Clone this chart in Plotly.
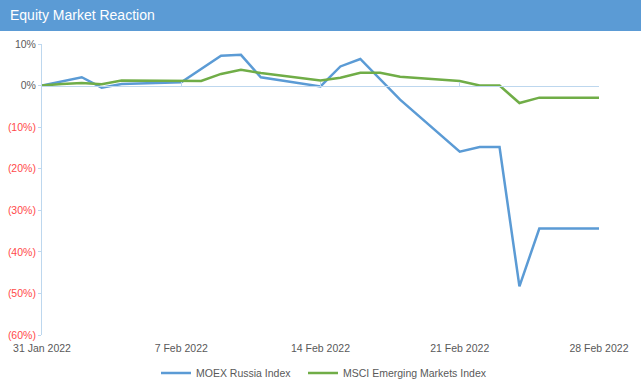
import plotly.graph_objects as go

dates = ["2022-01-31", "2022-02-01", "2022-02-02", "2022-02-03", "2022-02-04",
         "2022-02-07", "2022-02-08", "2022-02-09", "2022-02-10", "2022-02-11",
         "2022-02-14", "2022-02-15", "2022-02-16", "2022-02-17", "2022-02-18",
         "2022-02-21", "2022-02-22", "2022-02-23", "2022-02-24", "2022-02-25",
         "2022-02-28"]
moex = [0.0, 1.0, 2.0, -0.5, 0.4,
        0.8, 4.0, 7.2, 7.4, 2.0,
        -0.2, 4.6, 6.4, 1.5, -3.4,
        -15.9, -14.8, -14.8, -48.3, -34.4,
        -34.4]
msci = [0.0, 0.4, 0.6, 0.3, 1.2,
        1.1, 1.1, 2.8, 3.8, 3.0,
        1.2, 1.9, 3.1, 3.1, 2.1,
        1.1, 0.0, 0.0, -4.2, -2.9,
        -2.9]

x_tickvals = ["2022-01-31", "2022-02-07", "2022-02-14", "2022-02-21", "2022-02-28"]
x_ticktext = ["31 Jan 2022", "7 Feb 2022", "14 Feb 2022", "21 Feb 2022", "28 Feb 2022"]
y_tickvals = [10, 0, -10, -20, -30, -40, -50, -60]
y_ticktext = ["10%", "0%", "(10%)", "(20%)", "(30%)", "(40%)", "(50%)", "(60%)"]

BLUE = "#5B9BD5"
GREEN = "#70AD47"
AXIS = "#BDD7EE"
NEG = "#FF4A4A"
TXT = "#595959"
FONT = "Liberation Sans, Arial, sans-serif"

ytext = [t if v >= 0 else f"<span style='color:{NEG}'>{t}</span>" for v, t in zip(y_tickvals, y_ticktext)]

W, H = 641, 392
L, R, T, B = 42, 42, 44, 57
pw, ph = W - L - R, H - T - B

fig = go.Figure()
# invisible trace anchoring the zero-crossing axis
fig.add_trace(go.Scatter(x=[dates[0]], y=[0], xaxis="x2", mode="lines", showlegend=False,
                         hoverinfo="skip", line=dict(width=0)))
fig.add_trace(go.Scatter(x=dates, y=moex, mode="lines", name="MOEX Russia Index",
                         line=dict(color=BLUE, width=2.5), legend="legend"))
fig.add_trace(go.Scatter(x=dates, y=msci, mode="lines", name="MSCI Emerging Markets Index",
                         line=dict(color=GREEN, width=2.5), legend="legend2"))

leg_common = dict(orientation="h", xanchor="left", y=-(373 - 335) / ph, yanchor="middle",
                  font=dict(size=10.5, color=TXT), itemwidth=30, bgcolor="rgba(0,0,0,0)")

fig.update_layout(
    width=W, height=H,
    margin=dict(l=L, r=R, t=T, b=B, autoexpand=False),
    paper_bgcolor="white", plot_bgcolor="white",
    font=dict(family=FONT, size=10.5, color=TXT),
    title=dict(text="Equity Market Reaction", x=10 / W, xanchor="left", xref="container",
               y=1 - 15 / H, yanchor="middle", yref="container",
               font=dict(color="white", size=14, family=FONT)),
    showlegend=True,
    legend=dict(x=(156 - L) / pw, **leg_common),
    legend2=dict(x=(303 - L) / pw, **leg_common),
    xaxis=dict(type="date", range=["2022-01-31", "2022-02-28"], tickvals=x_tickvals,
               ticktext=x_ticktext, showgrid=False, zeroline=False, showline=False,
               ticks="", tickfont=dict(size=10.5, color=TXT), automargin=False,
               ticklabelstandoff=5),
    xaxis2=dict(type="date", matches="x", overlaying="x", anchor="free", position=60 / 70,
                side="bottom", showline=True, linecolor=AXIS, linewidth=1, showgrid=False,
                showticklabels=False, tickvals=x_tickvals, ticks="inside", ticklen=4,
                tickcolor=AXIS, automargin=False),
    yaxis=dict(range=[-60, 10], tickvals=y_tickvals, ticktext=ytext, showgrid=False,
               zeroline=False, showline=True, linecolor=AXIS, linewidth=1,
               ticks="outside", ticklen=3, tickcolor=AXIS, tickfont=dict(size=10.5, color=TXT),
               automargin=False),
    shapes=[dict(type="rect", xref="paper", yref="paper",
                 x0=-L / pw, x1=1 + R / pw, y0=(ph + T - 31) / ph,
                 y1=(ph + T) / ph, fillcolor=BLUE, line=dict(width=0), layer="below")],
)

fig.write_html("out.html", config={"displayModeBar": False},
               post_script="document.body.style.margin='0';")
